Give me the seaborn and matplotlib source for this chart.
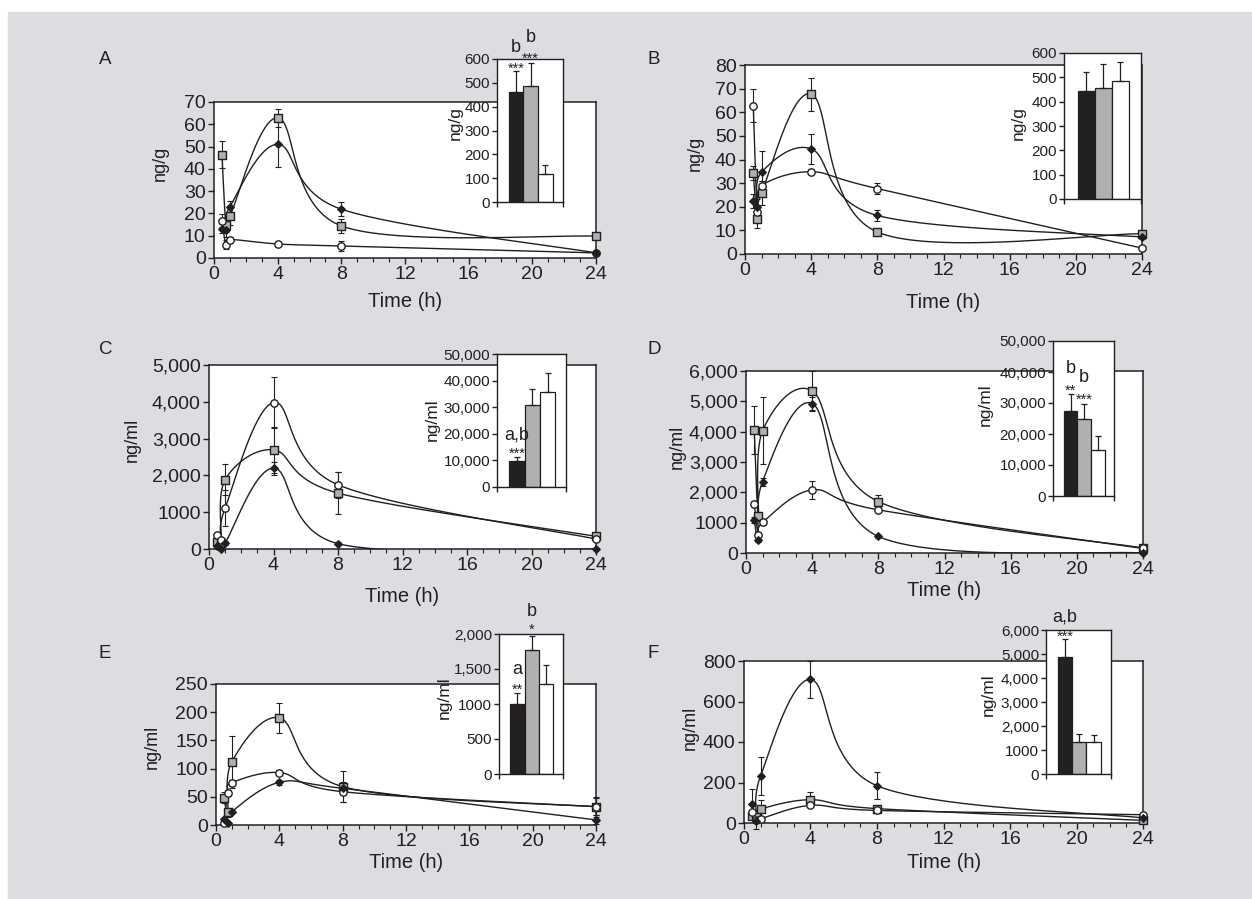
import numpy as np
import matplotlib
matplotlib.use("Agg")
import matplotlib.pyplot as plt
import seaborn as sns

sns.set_theme(style="ticks")
plt.rcParams['font.family'] = ['Liberation Sans', 'DejaVu Sans']

# ---------------- data ----------------
times = [0.5, 0.75, 1, 4, 8, 24]
groups = ["black", "gray", "white"]

# Panel A (ng/g)
a_black = [13.1, 12.5, 23.0, 51.0, 21.9, 2.3]
a_black_err = [2, 3, 2.5, 10, 3.2, 0.5]
a_gray = [46.4, 14.7, 18.8, 62.9, 14.4, 9.8]
a_gray_err = [6, 3, 4, 4, 3, 1]
a_white = [16.8, 6.0, 8.3, 6.3, 5.4, 2.3]
a_white_err = [3, 2, 1, 0.5, 2.3, 0.5]
a_auc = [461, 485, 117]
a_auc_err = [87, 97, 40]

# Panel B (ng/g)
b_black = [22.3, 20.1, 34.6, 44.5, 16.3, 7.2]
b_black_err = [3, 3, 8.8, 6.5, 2.3, 1]
b_gray = [34.2, 14.8, 25.8, 67.7, 9.3, 8.6]
b_gray_err = [3, 4, 5, 7, 1.5, 1]
b_white = [62.7, 17.6, 28.9, 34.8, 27.7, 2.5]
b_white_err = [7, 2, 2, 1, 2.3, 0.5]
b_auc = [445, 456, 486]
b_auc_err = [78, 100, 77]

# Panel C (ng/ml)
c_black = [72, 0, 163, 2197, 145, 0]
c_black_err = [50, 30, 60, 180, 40, 20]
c_gray = [200, 163, 1881, 2695, 1519, 344]
c_gray_err = [60, 50, 416, 630, 560, 40]
c_white = [380, 253, 1112, 3978, 1745, 271]
c_white_err = [60, 50, 500, 690, 360, 40]
c_auc = [9925, 30780, 35680]
c_auc_err = [1250, 6000, 7000]

# Panel D (ng/ml)
d_black = [1095, 438, 2354, 4927, 547, 0]
d_black_err = [100, 80, 130, 220, 60, 30]
d_gray = [4051, 1204, 4029, 5343, 1697, 164]
d_gray_err = [790, 150, 1100, 660, 220, 50]
d_white = [1620, 602, 1007, 2080, 1423, 150]
d_white_err = [100, 80, 80, 290, 60, 30]
d_auc = [27312, 24946, 14731]
d_auc_err = [5500, 4800, 4600]

# Panel E (ng/ml)
e_black = [10, 3, 23.6, 75.6, 65, 9]
e_black_err = [3, 2, 3, 5, 5, 8]
e_gray = [48.5, 22.5, 112, 190, 68, 32.5]
e_gray_err = [10, 8, 46, 27, 27, 18]
e_white = [3, 57, 75, 93, 59, 32.5]
e_white_err = [2, 5, 5, 5, 18, 15]
e_auc = [1000, 1767, 1281]
e_auc_err = [157, 200, 276]

# Panel F (ng/ml)
f_black = [95, 10, 233, 709, 184, 25]
f_black_err = [75, 40, 95, 90, 66, 10]
f_gray = [33, 40, 69, 115, 71, 13]
f_gray_err = [10, 10, 46, 36, 10, 5]
f_white = [54, 13, 21, 87, 62, 41]
f_white_err = [10, 10, 10, 10, 8, 5]
f_auc = [4890, 1316, 1344]
f_auc_err = [720, 360, 277]

# tick labels
x_ticks = [0, 4, 8, 12, 16, 20, 24]
a_yticks = [0, 10, 20, 30, 40, 50, 60, 70]
b_yticks = [0, 10, 20, 30, 40, 50, 60, 70, 80]
c_yticks = [0, 1000, 2000, 3000, 4000, 5000]
c_ylabels = ["0", "1000", "2,000", "3,000", "4,000", "5,000"]
d_yticks = [0, 1000, 2000, 3000, 4000, 5000, 6000]
d_ylabels = ["0", "1000", "2,000", "3,000", "4,000", "5,000", "6,000"]
e_yticks = [0, 50, 100, 150, 200, 250]
f_yticks = [0, 200, 400, 600, 800]
ab_inset_ticks = [0, 100, 200, 300, 400, 500, 600]
cd_inset_ticks = [0, 10000, 20000, 30000, 40000, 50000]
cd_inset_labels = ["0", "10,000", "20,000", "30,000", "40,000", "50,000"]
e_inset_ticks = [0, 500, 1000, 1500, 2000]
e_inset_labels = ["0", "500", "1000", "1,500", "2,000"]
f_inset_ticks = [0, 1000, 2000, 3000, 4000, 5000, 6000]
f_inset_labels = ["0", "1000", "2,000", "3,000", "4,000", "5,000", "6,000"]

# ---------------- style ----------------
W, H = 1252, 899
BLACK = "#231f20"
GRAY = "#aeb0b3"
WHITE = "#ffffff"
BG = "#dcdde0"

fig = plt.figure(figsize=(W / 100, H / 100), dpi=100, facecolor="white")
fig.patches.append(plt.Rectangle((8 / W, 0), 1 - 8 / W, 1 - 12 / H,
                                 transform=fig.transFigure, color=BG, zorder=-10))


def rect(l, r, t, b):
    return [l / W, 1 - b / H, (r - l) / W, (b - t) / H]


def smooth(xs, ys, sx, sy, n=40):
    P = np.column_stack([np.asarray(xs, float) * sx, np.asarray(ys, float) * sy])
    ext = np.vstack([P[0], P, P[-1]])
    t = np.linspace(0, 1, n)[:, None]
    out = []
    for i in range(len(P) - 1):
        p0, p1, p2, p3 = ext[i], ext[i + 1], ext[i + 2], ext[i + 3]
        b1 = p1 + (p2 - p0) / 6
        b2 = p2 - (p3 - p1) / 6
        seg = (1 - t) ** 3 * p1 + 3 * (1 - t) ** 2 * t * b1 + 3 * (1 - t) * t ** 2 * b2 + t ** 3 * p2
        out.append(seg if i == 0 else seg[1:])
    out = np.vstack(out)
    return out[:, 0] / sx, out[:, 1] / sy


def style_spines(ax, lw=1.1):
    for s in ax.spines.values():
        s.set_visible(True)
        s.set_color(BLACK)
        s.set_linewidth(lw)


def label_at(ax, which, px, py, box, text, size):
    l, r, t, b = box
    ax_x = (px - l) / (r - l)
    ax_y = (b - py) / (b - t)
    if which == "y":
        ax.set_ylabel(text, fontsize=size, color=BLACK)
        ax.yaxis.label.set(va="center", ha="center")
        ax.yaxis.set_label_coords(ax_x, ax_y)
    else:
        ax.set_xlabel(text, fontsize=size, color=BLACK)
        ax.xaxis.label.set(va="center", ha="center")
        ax.xaxis.set_label_coords(ax_x, ax_y)


def panel(letter, letter_px, box, ymax, yticks, ylabels, ylab, ylab_px, xlab_px,
          series, ibox, iymax, iticks, ilabels, ilab_px, auc, auc_err, annots):
    l, r, t, b = box
    ax = fig.add_axes(rect(*box), facecolor="white", zorder=1)
    style_spines(ax)
    sx = (r - l) / 24.0
    sy = (b - t) / ymax
    specs = [("gray", "s", GRAY, 30, 1.0), ("white", "o", WHITE, 28, 1.0),
             ("black", "D", BLACK, 16, 0.8)]
    for key, mk, col, s, ew in specs:
        vals, errs = series[key]
        xs, ys = smooth(times, vals, sx, sy)
        sns.lineplot(x=xs, y=ys, sort=False, estimator=None, color=BLACK,
                     lw=1.0, ax=ax, zorder=2)
        eb = ax.errorbar(times, vals, yerr=errs, fmt="none", ecolor=BLACK,
                         elinewidth=0.8, capsize=2.2, capthick=0.8, zorder=3)
        for art in eb.get_children():
            art.set_clip_on(False)
    for key, mk, col, s, ew in specs:
        vals, errs = series[key]
        sns.scatterplot(x=times, y=vals, marker=mk, s=s, color=col,
                        edgecolor=BLACK, linewidth=ew, ax=ax, zorder=4,
                        clip_on=False, legend=False)
    ax.set_xlim(0, 24)
    ax.set_ylim(0, ymax)
    ax.set_xticks(x_ticks)
    ax.set_xticklabels([str(v) for v in x_ticks])
    ax.set_xticks(np.arange(0, 25, 1), minor=True)
    ax.set_yticks(yticks)
    ax.set_yticklabels(ylabels)
    ax.tick_params(axis="both", which="major", direction="out", length=4, width=1,
                   color=BLACK, labelsize=14, labelcolor=BLACK, pad=2)
    ax.tick_params(axis="x", which="minor", direction="out", length=3, width=0.8,
                   color=BLACK)
    ax.tick_params(axis="y", which="minor", left=False)
    label_at(ax, "y", ylab_px[0], ylab_px[1], box, ylab, 13)
    label_at(ax, "x", xlab_px[0], xlab_px[1], box, "Time (h)", 14.5)

    # inset
    axi = fig.add_axes(rect(*ibox), facecolor="white", zorder=5)
    style_spines(axi, 1.0)
    sns.barplot(x=groups, y=auc, hue=groups, order=groups, hue_order=groups,
                palette={"black": BLACK, "gray": GRAY, "white": WHITE},
                edgecolor=BLACK, linewidth=0.9, width=1.0, legend=False, ax=axi)
    axi.errorbar([0, 1, 2], auc, yerr=[[0, 0, 0], auc_err], fmt="none",
                 ecolor=BLACK, elinewidth=0.9, capsize=2.5, capthick=0.9, zorder=6)
    axi.set_xlim(-1.3, 3.2)
    axi.set_ylim(0, iymax)
    axi.set_xticks([-1.3, 3.2])
    axi.set_xticklabels(["", ""])
    axi.set_yticks(iticks)
    axi.set_yticklabels(ilabels)
    axi.tick_params(axis="both", direction="out", length=3.5, width=1, color=BLACK,
                    labelsize=11, labelcolor=BLACK, pad=1.5)
    axi.set_xlabel("")
    label_at(axi, "y", ilab_px[0], ilab_px[1], ibox, ylab, 12.5)
    for xi, yv, txt, fs in annots:
        axi.text(xi, yv, txt, ha="center", va="center", fontsize=fs, color=BLACK,
                 clip_on=False)

    fig.text(letter_px[0] / W, 1 - letter_px[1] / H, letter, fontsize=13.5,
             color=BLACK, ha="left", va="center")


panel("A", (99, 60), (214, 596, 102, 258), 70, a_yticks, [str(v) for v in a_yticks],
      "ng/g", (160, 163), (405, 302),
      {"black": (a_black, a_black_err), "gray": (a_gray, a_gray_err),
       "white": (a_white, a_white_err)},
      (497, 563, 59, 202), 600, ab_inset_ticks, [str(v) for v in ab_inset_ticks],
      (455, 123), a_auc, a_auc_err,
      [(0, 560, "***", 10.5), (0, 650, "b", 13), (1, 602, "***", 10.5), (1, 692, "b", 13)])

panel("B", (648, 60), (745, 1142, 65, 254), 80, b_yticks, [str(v) for v in b_yticks],
      "ng/g", (695, 153), (943, 302),
      {"black": (b_black, b_black_err), "gray": (b_gray, b_gray_err),
       "white": (b_white, b_white_err)},
      (1064, 1141, 53, 199), 600, ab_inset_ticks, [str(v) for v in ab_inset_ticks],
      (1018, 123), b_auc, b_auc_err, [])

panel("C", (99, 350), (209, 596, 365, 549), 5000, c_yticks, c_ylabels,
      "ng/ml", (132, 440), (402, 597),
      {"black": (c_black, c_black_err), "gray": (c_gray, c_gray_err),
       "white": (c_white, c_white_err)},
      (497, 566, 354, 487), 50000, cd_inset_ticks, cd_inset_labels,
      (432, 420), c_auc, c_auc_err,
      [(0, 12500, "***", 10.5), (0, 19590, "a,b", 13)])

panel("D", (648, 350), (746, 1143, 371, 553), 6000, d_yticks, d_ylabels,
      "ng/ml", (677, 447), (944, 591),
      {"black": (d_black, d_black_err), "gray": (d_gray, d_gray_err),
       "white": (d_white, d_white_err)},
      (1053, 1114, 341, 496), 50000, cd_inset_ticks, cd_inset_labels,
      (985, 405), d_auc, d_auc_err,
      [(0, 34000, "**", 10.5), (0, 41190, "b", 13), (1, 31000, "***", 10.5), (1, 38290, "b", 13)])

panel("E", (99, 653), (216, 596, 684, 825), 250, e_yticks, [str(v) for v in e_yticks],
      "ng/ml", (152, 747), (406, 863),
      {"black": (e_black, e_black_err), "gray": (e_gray, e_gray_err),
       "white": (e_white, e_white_err)},
      (499, 563, 634, 774), 2000, e_inset_ticks, e_inset_labels,
      (444, 698), e_auc, e_auc_err,
      [(0, 1200, "**", 10.5), (0, 1490, "a", 13), (1, 2060, "*", 10.5), (1, 2319, "b", 13)])

panel("F", (648, 653), (744, 1143, 661, 823), 800, f_yticks, [str(v) for v in f_yticks],
      "ng/ml", (690, 728), (944, 863),
      {"black": (f_black, f_black_err), "gray": (f_gray, f_gray_err),
       "white": (f_white, f_white_err)},
      (1046, 1111, 630, 774), 6000, f_inset_ticks, f_inset_labels,
      (988, 695), f_auc, f_auc_err,
      [(0, 5700, "***", 10.5), (0, 6540, "a,b", 13)])

fig.savefig("out.png", dpi=100, facecolor="white")
